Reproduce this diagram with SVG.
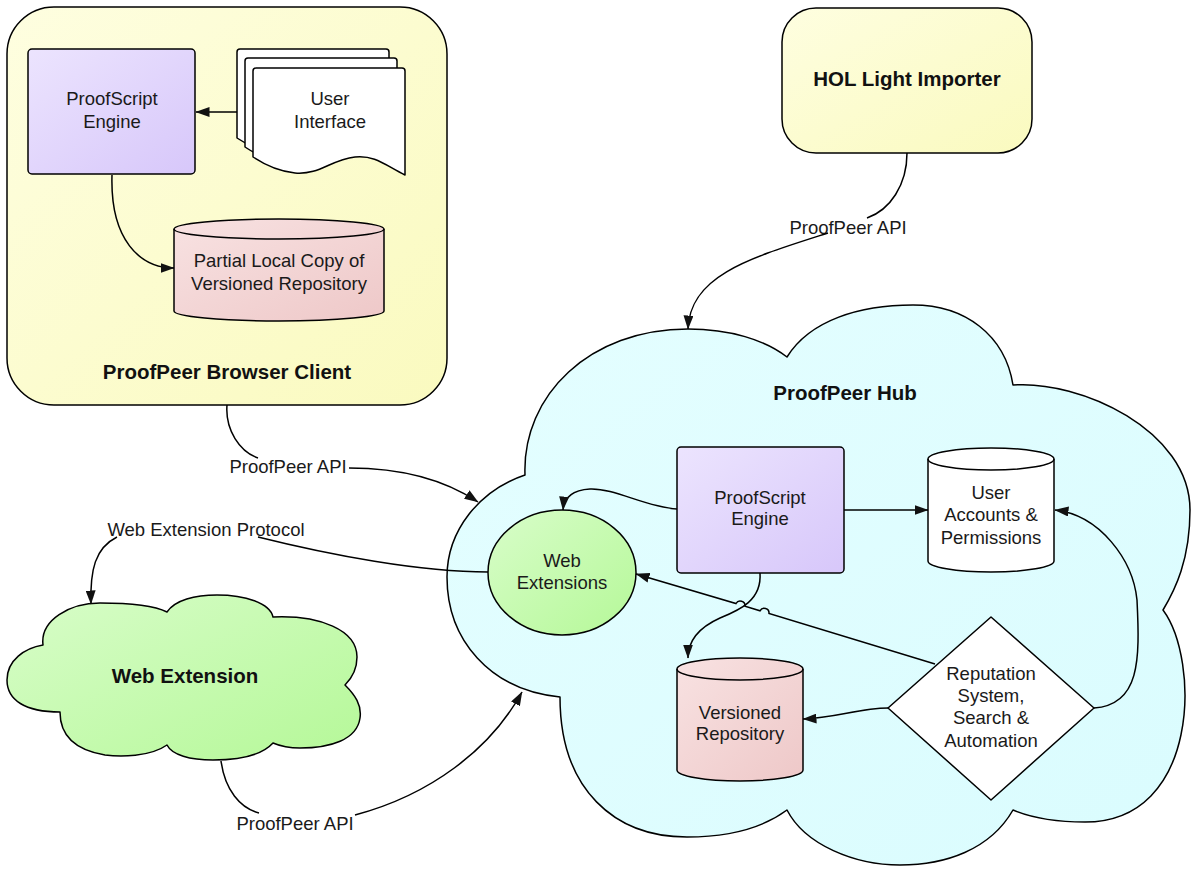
<svg xmlns="http://www.w3.org/2000/svg" width="1200" height="870" viewBox="0 0 1200 870">
<style>
.sh{stroke:#000;stroke-width:1.5;stroke-linejoin:round}
.cn{fill:none;stroke:#000;stroke-width:1.5}
.t{font-family:"Liberation Sans",Arial,sans-serif;font-size:18.5px;fill:#1a1a1a;text-anchor:middle}
.b{font-family:"Liberation Sans",Arial,sans-serif;font-size:20.5px;font-weight:bold;fill:#111;text-anchor:middle}
</style>
<defs>
<linearGradient id="gY" x1="0" y1="0" x2="1" y2="1"><stop offset="0" stop-color="#fefee0"/><stop offset="1" stop-color="#fafabf"/></linearGradient>
<linearGradient id="gP" x1="0" y1="0" x2="1" y2="1"><stop offset="0" stop-color="#ece4fe"/><stop offset="1" stop-color="#d7c7fa"/></linearGradient>
<linearGradient id="gR" x1="0" y1="0" x2="1" y2="1"><stop offset="0" stop-color="#f8e2e2"/><stop offset="1" stop-color="#eec8c8"/></linearGradient>
<linearGradient id="gG" x1="0" y1="0" x2="1" y2="1"><stop offset="0" stop-color="#d8fdc9"/><stop offset="1" stop-color="#b5f898"/></linearGradient>
<linearGradient id="gC" x1="0" y1="0" x2="1" y2="1"><stop offset="0" stop-color="#e4feff"/><stop offset="1" stop-color="#dafcfe"/></linearGradient>
<marker id="ah" viewBox="0 0 14 10" refX="13.5" refY="5" markerWidth="14" markerHeight="10" orient="auto" markerUnits="userSpaceOnUse"><path d="M0,0 L14,5 L0,10 z" fill="#111"/></marker>
</defs>

<g id="browser-client">
<rect class="sh" x="7" y="7" width="440" height="398" rx="47" fill="url(#gY)"/>
<text class="b" x="227" y="378.5">ProofPeer Browser Client</text>
</g>

<g id="hub">
<path class="sh" fill="url(#gC)" d="M525,475 C522,395 590,329 688,329 C730,329 765,340 787,357 C810,320 860,305 913,305 C965,305 1005,335 1013,385 C1080,380 1190,430 1190,510 C1190,560 1175,590 1163,610 C1200,660 1200,822 1085,822 C1050,822 1025,815 1013,810 C990,850 945,865 900,865 C855,865 805,845 787,810 C760,830 725,837 687,837 C615,837 560,790 560,697 C490,690 447,640 447,577 C447,530 480,490 525,475 Z"/>
<text class="b" x="845" y="400">ProofPeer Hub</text>
</g>

<g id="hol-importer">
<rect class="sh" x="782" y="8" width="250" height="145" rx="34" fill="url(#gY)"/>
<text class="b" x="907" y="85.5">HOL Light Importer</text>
</g>

<g id="web-extension">
<path class="sh" fill="url(#gG)" d="M43,645 C40,620 70,603 100,603 C130,603 155,606 167,612 C175,600 195,595 217,595 C245,595 270,603 273,617 C320,615 357,630 357,657 C357,670 350,680 345,685 C355,695 362,705 360,718 C357,740 330,748 300,748 C290,748 280,746 273,743 C262,755 240,760 213,760 C190,760 172,755 167,745 C150,757 120,757 105,755 C75,750 60,735 60,712 C25,712 7,700 7,680 C7,660 25,648 43,645 Z"/>
<text class="b" x="185" y="682.5">Web Extension</text>
</g>

<g id="connectors">
<path class="cn" marker-end="url(#ah)" d="M237,112 L196,112"/>
<path class="cn" marker-end="url(#ah)" d="M112,175 C110,240 140,268 174,268"/>
<path class="cn" d="M227,405 C225,430 240,452 258,458"/>
<text class="t" x="288" y="472.5">ProofPeer API</text>
<path class="cn" marker-end="url(#ah)" d="M349,468 C400,468 445,480 478,502"/>
<path class="cn" d="M907,153 C907,185 890,210 867,218"/>
<text class="t" x="848" y="233.5">ProofPeer API</text>
<path class="cn" marker-end="url(#ah)" d="M828,233 C750,258 690,275 688,329"/>
<path class="cn" d="M488,572 C420,572 330,555 258,537"/>
<text class="t" x="206" y="535.5">Web Extension Protocol</text>
<path class="cn" marker-end="url(#ah)" d="M117,537 C95,548 90,570 91,604"/>
<path class="cn" d="M221,761 C225,790 240,808 259,813"/>
<text class="t" x="295" y="829.5">ProofPeer API</text>
<path class="cn" marker-end="url(#ah)" d="M355,815 C430,795 490,750 522,692"/>
<path class="cn" marker-end="url(#ah)" d="M677,509 C645,507 615,488 590,489 C572,490 564,498 563,510"/>
<path class="cn" marker-end="url(#ah)" d="M844,510 L928,510"/>
<path class="cn" marker-end="url(#ah)" d="M760,573 C762,600 740,610 720,618 C700,627 688,640 688,658"/>
<path class="cn" marker-end="url(#ah)" d="M935,664 L769,613.5 A4.8,4.8 0 0 0 760,610.8 L745,606.2 A4.8,4.8 0 0 0 736,603.5 L636,574"/>
<path class="cn" marker-end="url(#ah)" d="M888,708 C860,708 835,718 803,719"/>
<path class="cn" marker-end="url(#ah)" d="M1094,708 C1140,705 1140,660 1137,600 C1133,560 1100,515 1055,510"/>
</g>

<g id="client-engine">
<rect class="sh" x="28" y="49" width="167" height="125" rx="4" fill="url(#gP)"/>
<text class="t" x="112" y="105">ProofScript</text>
<text class="t" x="112" y="128">Engine</text>
</g>

<g id="user-interface">
<path class="sh" fill="#fff" d="M237,52 Q237,49 240,49 L386,49 Q389,49 389,52 L389,156 C369,146 359,136 339,138 C314,141 304,156 279,154 C259,152 246,144 237,138 Z"/>
<path class="sh" fill="#fff" d="M245,61 Q245,58 248,58 L394,58 Q397,58 397,61 L397,165 C377,155 367,145 347,147 C322,150 312,165 287,163 C267,161 254,153 245,147 Z"/>
<path class="sh" fill="#fff" d="M253,71 Q253,68 256,68 L402,68 Q405,68 405,71 L405,175 C385,165 375,155 355,157 C330,160 320,175 295,173 C275,171 262,163 253,157 Z"/>
<text class="t" x="330" y="105">User</text>
<text class="t" x="330" y="128">Interface</text>
</g>

<g id="partial-local-copy">
<path class="sh" fill="url(#gR)" d="M174,229 A105,10 0 0 1 384,229 L384,311 A105,10 0 0 1 174,311 Z"/>
<path class="sh" fill="none" d="M174,229 A105,10 0 0 0 384,229"/>
<text class="t" x="279" y="267">Partial Local Copy of</text>
<text class="t" x="279" y="290">Versioned Repository</text>
</g>

<g id="hub-engine">
<rect class="sh" x="677" y="447" width="167" height="126" rx="4" fill="url(#gP)"/>
<text class="t" x="760" y="503.5">ProofScript</text>
<text class="t" x="760" y="525">Engine</text>
</g>

<g id="user-accounts">
<path class="sh" fill="#fff" d="M928,459 A63,11 0 0 1 1054,459 L1054,561 A63,11 0 0 1 928,561 Z"/>
<path class="sh" fill="none" d="M928,459 A63,11 0 0 0 1054,459"/>
<text class="t" x="991" y="498.5">User</text>
<text class="t" x="991" y="521">Accounts &amp;</text>
<text class="t" x="991" y="543.5">Permissions</text>
</g>

<g id="web-extensions">
<ellipse class="sh" cx="562" cy="572.5" rx="74" ry="62.5" fill="url(#gG)"/>
<text class="t" x="562" y="566.5">Web</text>
<text class="t" x="562" y="589">Extensions</text>
</g>

<g id="versioned-repository">
<path class="sh" fill="url(#gR)" d="M677,669 A63,11 0 0 1 803,669 L803,770 A63,11 0 0 1 677,770 Z"/>
<path class="sh" fill="none" d="M677,669 A63,11 0 0 0 803,669"/>
<text class="t" x="740" y="718.5">Versioned</text>
<text class="t" x="740" y="740">Repository</text>
</g>

<g id="reputation">
<path class="sh" fill="#fff" d="M991,617 L1094,708 L991,800 L888,708 Z"/>
<text class="t" x="991" y="679.5">Reputation</text>
<text class="t" x="991" y="702">System,</text>
<text class="t" x="991" y="724">Search &amp;</text>
<text class="t" x="991" y="746.5">Automation</text>
</g>
</svg>
